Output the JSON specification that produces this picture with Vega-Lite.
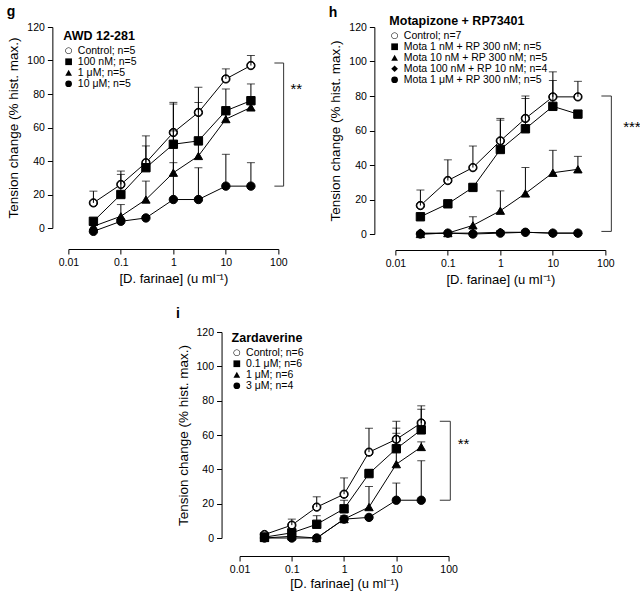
{
  "$schema": "https://vega.github.io/schema/vega-lite/v6.json",
  "padding": {"left": 6, "top": 5, "right": 0, "bottom": 0},
  "background": "white",
  "config": {
    "font": "Liberation Sans",
    "view": {"stroke": null},
    "axis": {"grid": false, "domainColor": "black", "tickColor": "black", "labelColor": "black", "titleColor": "black", "labelFontSize": 10.5, "titleFontSize": 13.5, "titleFontWeight": "normal", "tickSize": 5, "labelPadding": 3, "domainWidth": 1, "tickWidth": 1, "labelOverlap": false},
    "axisX": {"labelPadding": 3, "titlePadding": 5, "titleFontSize": 13},
    "axisY": {"titlePadding": 6, "tickCount": 7},
    "legend": {"orient": "none", "titleFontSize": 12.5, "titleFontWeight": "bold", "titleColor": "black", "labelColor": "black", "labelFontSize": 10.5, "symbolSize": 45, "rowPadding": -2, "padding": 0, "symbolFillColor": "black", "symbolStrokeColor": "black", "symbolStrokeWidth": 1, "titlePadding": 3, "labelOffset": 4, "titleLimit": 400, "labelLimit": 400},
    "title": {"fontSize": 14, "fontWeight": "bold", "anchor": "start", "frame": "bounds", "color": "black"}
  },
  "datasets": {
    "pts": [
      {"panel": "g", "series": "Control; n=5", "x": 0.03, "y": 15, "err": 22},
      {"panel": "g", "series": "Control; n=5", "x": 0.1, "y": 26, "err": 34},
      {"panel": "g", "series": "Control; n=5", "x": 0.3, "y": 39, "err": 55},
      {"panel": "g", "series": "Control; n=5", "x": 1, "y": 57, "err": 75},
      {"panel": "g", "series": "Control; n=5", "x": 3, "y": 69, "err": 84},
      {"panel": "g", "series": "Control; n=5", "x": 10, "y": 89, "err": 95},
      {"panel": "g", "series": "Control; n=5", "x": 30, "y": 97, "err": 103},
      {"panel": "g", "series": "100 nM; n=5", "x": 0.03, "y": 4, "err": 5},
      {"panel": "g", "series": "100 nM; n=5", "x": 0.1, "y": 20, "err": 32},
      {"panel": "g", "series": "100 nM; n=5", "x": 0.3, "y": 36, "err": 49},
      {"panel": "g", "series": "100 nM; n=5", "x": 1, "y": 50, "err": 58},
      {"panel": "g", "series": "100 nM; n=5", "x": 3, "y": 52, "err": 75},
      {"panel": "g", "series": "100 nM; n=5", "x": 10, "y": 70, "err": 83},
      {"panel": "g", "series": "100 nM; n=5", "x": 30, "y": 76, "err": 86},
      {"panel": "g", "series": "1 μM; n=5", "x": 0.03, "y": 1, "err": 2},
      {"panel": "g", "series": "1 μM; n=5", "x": 0.1, "y": 7, "err": 14},
      {"panel": "g", "series": "1 μM; n=5", "x": 0.3, "y": 17, "err": 28},
      {"panel": "g", "series": "1 μM; n=5", "x": 1, "y": 33, "err": 39},
      {"panel": "g", "series": "1 μM; n=5", "x": 3, "y": 43, "err": 52},
      {"panel": "g", "series": "1 μM; n=5", "x": 10, "y": 65, "err": 68},
      {"panel": "g", "series": "1 μM; n=5", "x": 30, "y": 72, "err": 74},
      {"panel": "g", "series": "10 μM; n=5", "x": 0.03, "y": -2, "err": -1},
      {"panel": "g", "series": "10 μM; n=5", "x": 0.1, "y": 4, "err": 5},
      {"panel": "g", "series": "10 μM; n=5", "x": 0.3, "y": 6, "err": 7},
      {"panel": "g", "series": "10 μM; n=5", "x": 1, "y": 17, "err": 74},
      {"panel": "g", "series": "10 μM; n=5", "x": 3, "y": 17, "err": 36},
      {"panel": "g", "series": "10 μM; n=5", "x": 10, "y": 25, "err": 44},
      {"panel": "g", "series": "10 μM; n=5", "x": 30, "y": 25, "err": 39},

      {"panel": "h", "series": "Control; n=7", "x": 0.03, "y": 16.5, "err": 25.5},
      {"panel": "h", "series": "Control; n=7", "x": 0.1, "y": 31, "err": 43},
      {"panel": "h", "series": "Control; n=7", "x": 0.3, "y": 38.5, "err": 51},
      {"panel": "h", "series": "Control; n=7", "x": 1, "y": 54, "err": 67},
      {"panel": "h", "series": "Control; n=7", "x": 3, "y": 67, "err": 80},
      {"panel": "h", "series": "Control; n=7", "x": 10, "y": 79.5, "err": 94},
      {"panel": "h", "series": "Control; n=7", "x": 30, "y": 79.5, "err": 88.5},
      {"panel": "h", "series": "Mota 1 nM + RP 300 nM; n=5", "x": 0.03, "y": 10, "err": 11},
      {"panel": "h", "series": "Mota 1 nM + RP 300 nM; n=5", "x": 0.1, "y": 17.5, "err": 19},
      {"panel": "h", "series": "Mota 1 nM + RP 300 nM; n=5", "x": 0.3, "y": 27, "err": 29},
      {"panel": "h", "series": "Mota 1 nM + RP 300 nM; n=5", "x": 1, "y": 49, "err": 66},
      {"panel": "h", "series": "Mota 1 nM + RP 300 nM; n=5", "x": 3, "y": 61, "err": 78.5},
      {"panel": "h", "series": "Mota 1 nM + RP 300 nM; n=5", "x": 10, "y": 74, "err": 89},
      {"panel": "h", "series": "Mota 1 nM + RP 300 nM; n=5", "x": 30, "y": 69.5, "err": 71},
      {"panel": "h", "series": "Mota 10 nM + RP 300 nM; n=5", "x": 0.03, "y": 0, "err": 1},
      {"panel": "h", "series": "Mota 10 nM + RP 300 nM; n=5", "x": 0.1, "y": 0.5, "err": 1},
      {"panel": "h", "series": "Mota 10 nM + RP 300 nM; n=5", "x": 0.3, "y": 5, "err": 10},
      {"panel": "h", "series": "Mota 10 nM + RP 300 nM; n=5", "x": 1, "y": 13.5, "err": 25},
      {"panel": "h", "series": "Mota 10 nM + RP 300 nM; n=5", "x": 3, "y": 23.5, "err": 38.5},
      {"panel": "h", "series": "Mota 10 nM + RP 300 nM; n=5", "x": 10, "y": 35.5, "err": 48.5},
      {"panel": "h", "series": "Mota 10 nM + RP 300 nM; n=5", "x": 30, "y": 37.5, "err": 45},
      {"panel": "h", "series": "Mota 100 nM + RP 10 nM; n=4", "x": 0.03, "y": 0.5, "err": 1},
      {"panel": "h", "series": "Mota 100 nM + RP 10 nM; n=4", "x": 0.1, "y": 0.5, "err": 1},
      {"panel": "h", "series": "Mota 100 nM + RP 10 nM; n=4", "x": 0.3, "y": 0.5, "err": 1},
      {"panel": "h", "series": "Mota 100 nM + RP 10 nM; n=4", "x": 1, "y": 1, "err": 2},
      {"panel": "h", "series": "Mota 100 nM + RP 10 nM; n=4", "x": 3, "y": 1, "err": 2},
      {"panel": "h", "series": "Mota 100 nM + RP 10 nM; n=4", "x": 10, "y": 0.5, "err": 1},
      {"panel": "h", "series": "Mota 100 nM + RP 10 nM; n=4", "x": 30, "y": 0.5, "err": 1},
      {"panel": "h", "series": "Mota 1 μM + RP 300 nM; n=5", "x": 0.03, "y": 0, "err": 0},
      {"panel": "h", "series": "Mota 1 μM + RP 300 nM; n=5", "x": 0.1, "y": 0.5, "err": 0.5},
      {"panel": "h", "series": "Mota 1 μM + RP 300 nM; n=5", "x": 0.3, "y": 0, "err": 0},
      {"panel": "h", "series": "Mota 1 μM + RP 300 nM; n=5", "x": 1, "y": 0.5, "err": 1},
      {"panel": "h", "series": "Mota 1 μM + RP 300 nM; n=5", "x": 3, "y": 1, "err": 1.5},
      {"panel": "h", "series": "Mota 1 μM + RP 300 nM; n=5", "x": 10, "y": 0.5, "err": 0.5},
      {"panel": "h", "series": "Mota 1 μM + RP 300 nM; n=5", "x": 30, "y": 0.5, "err": 0.5},

      {"panel": "i", "series": "Control; n=6", "x": 0.03, "y": 2, "err": 3},
      {"panel": "i", "series": "Control; n=6", "x": 0.1, "y": 7.5, "err": 11},
      {"panel": "i", "series": "Control; n=6", "x": 0.3, "y": 18, "err": 24},
      {"panel": "i", "series": "Control; n=6", "x": 1, "y": 25.5, "err": 35},
      {"panel": "i", "series": "Control; n=6", "x": 3, "y": 50, "err": 64},
      {"panel": "i", "series": "Control; n=6", "x": 10, "y": 57.5, "err": 68},
      {"panel": "i", "series": "Control; n=6", "x": 30, "y": 67, "err": 77},
      {"panel": "i", "series": "0.1 μM; n=6", "x": 0.03, "y": 0.5, "err": 1},
      {"panel": "i", "series": "0.1 μM; n=6", "x": 0.1, "y": 3, "err": 5},
      {"panel": "i", "series": "0.1 μM; n=6", "x": 0.3, "y": 8, "err": 13},
      {"panel": "i", "series": "0.1 μM; n=6", "x": 1, "y": 17, "err": 22},
      {"panel": "i", "series": "0.1 μM; n=6", "x": 3, "y": 37.5, "err": 40},
      {"panel": "i", "series": "0.1 μM; n=6", "x": 10, "y": 52, "err": 64},
      {"panel": "i", "series": "0.1 μM; n=6", "x": 30, "y": 63, "err": 75},
      {"panel": "i", "series": "1 μM; n=6", "x": 0.03, "y": 0, "err": 1},
      {"panel": "i", "series": "1 μM; n=6", "x": 0.1, "y": 1, "err": 2},
      {"panel": "i", "series": "1 μM; n=6", "x": 0.3, "y": 0, "err": 1},
      {"panel": "i", "series": "1 μM; n=6", "x": 1, "y": 11, "err": 13},
      {"panel": "i", "series": "1 μM; n=6", "x": 3, "y": 18, "err": 30},
      {"panel": "i", "series": "1 μM; n=6", "x": 10, "y": 43, "err": 61},
      {"panel": "i", "series": "1 μM; n=6", "x": 30, "y": 53, "err": 56},
      {"panel": "i", "series": "3 μM; n=4", "x": 0.03, "y": 0, "err": 1},
      {"panel": "i", "series": "3 μM; n=4", "x": 0.1, "y": 0, "err": 1},
      {"panel": "i", "series": "3 μM; n=4", "x": 0.3, "y": 0, "err": 1},
      {"panel": "i", "series": "3 μM; n=4", "x": 1, "y": 11, "err": 12},
      {"panel": "i", "series": "3 μM; n=4", "x": 3, "y": 12, "err": 13},
      {"panel": "i", "series": "3 μM; n=4", "x": 10, "y": 22, "err": 32},
      {"panel": "i", "series": "3 μM; n=4", "x": 30, "y": 22, "err": 45}
    ],
    "br": [
      {"panel": "g", "xl": 84, "xr": 126, "yt": 98.5, "yb": 25, "xs": 220, "ys": 83, "stars": "**"},
      {"panel": "h", "xl": 84, "xr": 130, "yt": 80, "yb": 1.5, "xs": 320, "ys": 62, "stars": "***"},
      {"panel": "i", "xl": 68, "xr": 108, "yt": 68, "yb": 22, "xs": 194, "ys": 55, "stars": "**"}
    ]
  },
  "resolve": {"scale": {"x": "independent", "y": "independent", "shape": "independent"}, "legend": {"shape": "independent"}},
  "center": true,
  "spacing": 20,
  "vconcat": [
    {
      "hconcat": [
        {
          "width": 210, "height": 201,
          "title": {"text": "g", "offset": 3},
          "layer": [
            {"data": {"name": "pts"}, "transform": [{"filter": "datum.panel === 'g'"}], "mark": {"type": "line", "color": "black", "strokeWidth": 1},
             "encoding": {
               "x": {"field": "x", "type": "quantitative", "scale": {"type": "log", "domain": [0.01, 100]}, "axis": {"values": [0.01, 0.1, 1, 10, 100], "format": "~g", "offset": 21, "labelFlush": false, "title": "[D. farinae] (u ml⁻¹)"}},
               "y": {"field": "y", "type": "quantitative", "scale": {"domain": [0, 120], "nice": false}, "axis": {"values": [0, 20, 40, 60, 80, 100, 120], "offset": 16, "title": "Tension change (% hist. max.)"}},
               "detail": {"field": "series"}, "order": {"field": "x"}}},
            {"data": {"name": "pts"}, "transform": [{"filter": "datum.panel === 'g' && indexof(datum.series, 'Control') === 0"}], "mark": {"type": "circle", "color": "white", "size": 70, "opacity": 1},
             "encoding": {
               "x": {"field": "x", "type": "quantitative", "axis": {"values": [0.01, 0.1, 1, 10, 100], "format": "~g", "offset": 21, "labelFlush": false, "title": "[D. farinae] (u ml⁻¹)"}},
               "y": {"field": "y", "type": "quantitative", "axis": {"values": [0, 20, 40, 60, 80, 100, 120], "offset": 16, "title": "Tension change (% hist. max.)"}}}},
            {"data": {"name": "pts"}, "transform": [{"filter": "datum.panel === 'g'"}], "mark": {"type": "point", "filled": true, "color": "black", "stroke": "black", "strokeWidth": 1, "size": 70, "opacity": 1},
             "encoding": {
               "x": {"field": "x", "type": "quantitative", "axis": {"values": [0.01, 0.1, 1, 10, 100], "format": "~g", "offset": 21, "labelFlush": false, "title": "[D. farinae] (u ml⁻¹)"}},
               "y": {"field": "y", "type": "quantitative", "axis": {"values": [0, 20, 40, 60, 80, 100, 120], "offset": 16, "title": "Tension change (% hist. max.)"}},
               "shape": {"field": "series", "type": "nominal", "scale": {"domain": ["Control; n=5", "100 nM; n=5", "1 μM; n=5", "10 μM; n=5"], "range": ["M0,-1A1,1,0,1,1,0,1A1,1,0,1,1,0,-1ZM0,-0.84A0.84,0.84,0,1,0,0,0.84A0.84,0.84,0,1,0,0,-0.84Z", "square", "triangle-up", "circle"]}, "legend": {"title": "AWD 12-281", "legendX": -5, "legendY": 3, "symbolFillColor": "black", "symbolStrokeColor": "black"}}}},
            {"data": {"name": "pts"}, "transform": [{"filter": "datum.panel === 'g'"}], "mark": {"type": "rule", "color": "black", "strokeWidth": 1},
             "encoding": {"x": {"field": "x", "type": "quantitative"}, "y": {"field": "y", "type": "quantitative", "axis": {"values": [0, 20, 40, 60, 80, 100, 120], "offset": 16, "title": "Tension change (% hist. max.)"}}, "y2": {"field": "err"}}},
            {"data": {"name": "pts"}, "transform": [{"filter": "datum.panel === 'g'"}], "mark": {"type": "tick", "orient": "horizontal", "color": "black", "size": 8, "thickness": 1},
             "encoding": {"x": {"field": "x", "type": "quantitative"}, "y": {"field": "err", "type": "quantitative", "axis": {"values": [0, 20, 40, 60, 80, 100, 120], "offset": 16, "title": "Tension change (% hist. max.)"}}}},
            {"data": {"name": "br"}, "transform": [{"filter": "datum.panel === 'g'"}], "mark": {"type": "rule", "color": "#333", "strokeWidth": 1},
             "encoding": {"x": {"field": "xr", "type": "quantitative"}, "y": {"field": "yt", "type": "quantitative", "axis": {"values": [0, 20, 40, 60, 80, 100, 120], "offset": 16, "title": "Tension change (% hist. max.)"}}, "y2": {"field": "yb"}}},
            {"data": {"name": "br"}, "transform": [{"filter": "datum.panel === 'g'"}], "mark": {"type": "rule", "color": "#333", "strokeWidth": 1},
             "encoding": {"x": {"field": "xl", "type": "quantitative"}, "x2": {"field": "xr"}, "y": {"field": "yt", "type": "quantitative", "axis": {"values": [0, 20, 40, 60, 80, 100, 120], "offset": 16, "title": "Tension change (% hist. max.)"}}}},
            {"data": {"name": "br"}, "transform": [{"filter": "datum.panel === 'g'"}], "mark": {"type": "rule", "color": "#333", "strokeWidth": 1},
             "encoding": {"x": {"field": "xl", "type": "quantitative"}, "x2": {"field": "xr"}, "y": {"field": "yb", "type": "quantitative", "axis": {"values": [0, 20, 40, 60, 80, 100, 120], "offset": 16, "title": "Tension change (% hist. max.)"}}}},
            {"data": {"name": "br"}, "transform": [{"filter": "datum.panel === 'g'"}], "mark": {"type": "text", "fontSize": 15, "color": "black", "baseline": "middle"},
             "encoding": {"x": {"field": "xs", "type": "quantitative"}, "y": {"field": "ys", "type": "quantitative", "axis": {"values": [0, 20, 40, 60, 80, 100, 120], "offset": 16, "title": "Tension change (% hist. max.)"}}, "text": {"field": "stars"}}}
          ]
        },
        {
          "width": 210, "height": 207,
          "title": {"text": "h", "offset": -5},
          "layer": [
            {"data": {"name": "pts"}, "transform": [{"filter": "datum.panel === 'h'"}], "mark": {"type": "line", "color": "black", "strokeWidth": 1},
             "encoding": {
               "x": {"field": "x", "type": "quantitative", "scale": {"type": "log", "domain": [0.01, 100]}, "axis": {"values": [0.01, 0.1, 1, 10, 100], "format": "~g", "offset": 16, "labelFlush": false, "title": "[D. farinae] (u ml⁻¹)"}},
               "y": {"field": "y", "type": "quantitative", "scale": {"domain": [0, 120], "nice": false}, "axis": {"values": [0, 20, 40, 60, 80, 100, 120], "offset": 21, "title": "Tension change (% hist. max.)"}},
               "detail": {"field": "series"}, "order": {"field": "x"}}},
            {"data": {"name": "pts"}, "transform": [{"filter": "datum.panel === 'h' && indexof(datum.series, 'Control') === 0"}], "mark": {"type": "circle", "color": "white", "size": 70, "opacity": 1},
             "encoding": {
               "x": {"field": "x", "type": "quantitative", "axis": {"values": [0.01, 0.1, 1, 10, 100], "format": "~g", "offset": 16, "labelFlush": false, "title": "[D. farinae] (u ml⁻¹)"}},
               "y": {"field": "y", "type": "quantitative", "axis": {"values": [0, 20, 40, 60, 80, 100, 120], "offset": 21, "title": "Tension change (% hist. max.)"}}}},
            {"data": {"name": "pts"}, "transform": [{"filter": "datum.panel === 'h'"}], "mark": {"type": "point", "filled": true, "color": "black", "stroke": "black", "strokeWidth": 1, "size": 70, "opacity": 1},
             "encoding": {
               "x": {"field": "x", "type": "quantitative", "axis": {"values": [0.01, 0.1, 1, 10, 100], "format": "~g", "offset": 16, "labelFlush": false, "title": "[D. farinae] (u ml⁻¹)"}},
               "y": {"field": "y", "type": "quantitative", "axis": {"values": [0, 20, 40, 60, 80, 100, 120], "offset": 21, "title": "Tension change (% hist. max.)"}},
               "shape": {"field": "series", "type": "nominal", "scale": {"domain": ["Control; n=7", "Mota 1 nM + RP 300 nM; n=5", "Mota 10 nM + RP 300 nM; n=5", "Mota 100 nM + RP 10 nM; n=4", "Mota 1 μM + RP 300 nM; n=5"], "range": ["M0,-1A1,1,0,1,1,0,1A1,1,0,1,1,0,-1ZM0,-0.84A0.84,0.84,0,1,0,0,0.84A0.84,0.84,0,1,0,0,-0.84Z", "square", "triangle-up", "diamond", "circle"]}, "legend": {"title": "Motapizone + RP73401", "legendX": -6, "legendY": -12, "symbolFillColor": "black", "symbolStrokeColor": "black"}}}},
            {"data": {"name": "pts"}, "transform": [{"filter": "datum.panel === 'h'"}], "mark": {"type": "rule", "color": "black", "strokeWidth": 1},
             "encoding": {"x": {"field": "x", "type": "quantitative"}, "y": {"field": "y", "type": "quantitative", "axis": {"values": [0, 20, 40, 60, 80, 100, 120], "offset": 21, "title": "Tension change (% hist. max.)"}}, "y2": {"field": "err"}}},
            {"data": {"name": "pts"}, "transform": [{"filter": "datum.panel === 'h'"}], "mark": {"type": "tick", "orient": "horizontal", "color": "black", "size": 8, "thickness": 1},
             "encoding": {"x": {"field": "x", "type": "quantitative"}, "y": {"field": "err", "type": "quantitative", "axis": {"values": [0, 20, 40, 60, 80, 100, 120], "offset": 21, "title": "Tension change (% hist. max.)"}}}},
            {"data": {"name": "br"}, "transform": [{"filter": "datum.panel === 'h'"}], "mark": {"type": "rule", "color": "#333", "strokeWidth": 1},
             "encoding": {"x": {"field": "xr", "type": "quantitative"}, "y": {"field": "yt", "type": "quantitative", "axis": {"values": [0, 20, 40, 60, 80, 100, 120], "offset": 21, "title": "Tension change (% hist. max.)"}}, "y2": {"field": "yb"}}},
            {"data": {"name": "br"}, "transform": [{"filter": "datum.panel === 'h'"}], "mark": {"type": "rule", "color": "#333", "strokeWidth": 1},
             "encoding": {"x": {"field": "xl", "type": "quantitative"}, "x2": {"field": "xr"}, "y": {"field": "yt", "type": "quantitative", "axis": {"values": [0, 20, 40, 60, 80, 100, 120], "offset": 21, "title": "Tension change (% hist. max.)"}}}},
            {"data": {"name": "br"}, "transform": [{"filter": "datum.panel === 'h'"}], "mark": {"type": "rule", "color": "#333", "strokeWidth": 1},
             "encoding": {"x": {"field": "xl", "type": "quantitative"}, "x2": {"field": "xr"}, "y": {"field": "yb", "type": "quantitative", "axis": {"values": [0, 20, 40, 60, 80, 100, 120], "offset": 21, "title": "Tension change (% hist. max.)"}}}},
            {"data": {"name": "br"}, "transform": [{"filter": "datum.panel === 'h'"}], "mark": {"type": "text", "fontSize": 15, "color": "black", "baseline": "middle"},
             "encoding": {"x": {"field": "xs", "type": "quantitative"}, "y": {"field": "ys", "type": "quantitative", "axis": {"values": [0, 20, 40, 60, 80, 100, 120], "offset": 21, "title": "Tension change (% hist. max.)"}}, "text": {"field": "stars"}}}
          ]
        }
      ],
      "spacing": 26,
      "resolve": {"scale": {"x": "independent", "y": "independent", "shape": "independent"}, "legend": {"shape": "independent"}}
    },
    {
      "width": 209, "height": 206,
      "title": {"text": "i", "offset": 6},
      "layer": [
        {"data": {"name": "pts"}, "transform": [{"filter": "datum.panel === 'i'"}], "mark": {"type": "line", "color": "black", "strokeWidth": 1},
         "encoding": {
           "x": {"field": "x", "type": "quantitative", "scale": {"type": "log", "domain": [0.01, 100]}, "axis": {"values": [0.01, 0.1, 1, 10, 100], "format": "~g", "offset": 18, "labelFlush": false, "title": "[D. farinae] (u ml⁻¹)", "titlePadding": 3}},
           "y": {"field": "y", "type": "quantitative", "scale": {"domain": [0, 120], "nice": false}, "axis": {"values": [0, 20, 40, 60, 80, 100, 120], "offset": 18, "title": "Tension change (% hist. max.)"}},
           "detail": {"field": "series"}, "order": {"field": "x"}}},
        {"data": {"name": "pts"}, "transform": [{"filter": "datum.panel === 'i' && indexof(datum.series, 'Control') === 0"}], "mark": {"type": "circle", "color": "white", "size": 70, "opacity": 1},
         "encoding": {
           "x": {"field": "x", "type": "quantitative", "axis": {"values": [0.01, 0.1, 1, 10, 100], "format": "~g", "offset": 18, "labelFlush": false, "title": "[D. farinae] (u ml⁻¹)", "titlePadding": 3}},
           "y": {"field": "y", "type": "quantitative", "axis": {"values": [0, 20, 40, 60, 80, 100, 120], "offset": 18, "title": "Tension change (% hist. max.)"}}}},
        {"data": {"name": "pts"}, "transform": [{"filter": "datum.panel === 'i'"}], "mark": {"type": "point", "filled": true, "color": "black", "stroke": "black", "strokeWidth": 1, "size": 70, "opacity": 1},
         "encoding": {
           "x": {"field": "x", "type": "quantitative", "axis": {"values": [0.01, 0.1, 1, 10, 100], "format": "~g", "offset": 18, "labelFlush": false, "title": "[D. farinae] (u ml⁻¹)", "titlePadding": 3}},
           "y": {"field": "y", "type": "quantitative", "axis": {"values": [0, 20, 40, 60, 80, 100, 120], "offset": 18, "title": "Tension change (% hist. max.)"}},
           "shape": {"field": "series", "type": "nominal", "scale": {"domain": ["Control; n=6", "0.1 μM; n=6", "1 μM; n=6", "3 μM; n=4"], "range": ["M0,-1A1,1,0,1,1,0,1A1,1,0,1,1,0,-1ZM0,-0.84A0.84,0.84,0,1,0,0,0.84A0.84,0.84,0,1,0,0,-0.84Z", "square", "triangle-up", "circle"]}, "legend": {"title": "Zardaverine", "legendX": -8, "legendY": 0, "symbolFillColor": "black", "symbolStrokeColor": "black"}}}},
        {"data": {"name": "pts"}, "transform": [{"filter": "datum.panel === 'i'"}], "mark": {"type": "rule", "color": "black", "strokeWidth": 1},
         "encoding": {"x": {"field": "x", "type": "quantitative"}, "y": {"field": "y", "type": "quantitative", "axis": {"values": [0, 20, 40, 60, 80, 100, 120], "offset": 18, "title": "Tension change (% hist. max.)"}}, "y2": {"field": "err"}}},
        {"data": {"name": "pts"}, "transform": [{"filter": "datum.panel === 'i'"}], "mark": {"type": "tick", "orient": "horizontal", "color": "black", "size": 8, "thickness": 1},
         "encoding": {"x": {"field": "x", "type": "quantitative"}, "y": {"field": "err", "type": "quantitative", "axis": {"values": [0, 20, 40, 60, 80, 100, 120], "offset": 18, "title": "Tension change (% hist. max.)"}}}},
        {"data": {"name": "br"}, "transform": [{"filter": "datum.panel === 'i'"}], "mark": {"type": "rule", "color": "#333", "strokeWidth": 1},
         "encoding": {"x": {"field": "xr", "type": "quantitative"}, "y": {"field": "yt", "type": "quantitative", "axis": {"values": [0, 20, 40, 60, 80, 100, 120], "offset": 18, "title": "Tension change (% hist. max.)"}}, "y2": {"field": "yb"}}},
        {"data": {"name": "br"}, "transform": [{"filter": "datum.panel === 'i'"}], "mark": {"type": "rule", "color": "#333", "strokeWidth": 1},
         "encoding": {"x": {"field": "xl", "type": "quantitative"}, "x2": {"field": "xr"}, "y": {"field": "yt", "type": "quantitative", "axis": {"values": [0, 20, 40, 60, 80, 100, 120], "offset": 18, "title": "Tension change (% hist. max.)"}}}},
        {"data": {"name": "br"}, "transform": [{"filter": "datum.panel === 'i'"}], "mark": {"type": "rule", "color": "#333", "strokeWidth": 1},
         "encoding": {"x": {"field": "xl", "type": "quantitative"}, "x2": {"field": "xr"}, "y": {"field": "yb", "type": "quantitative", "axis": {"values": [0, 20, 40, 60, 80, 100, 120], "offset": 18, "title": "Tension change (% hist. max.)"}}}},
        {"data": {"name": "br"}, "transform": [{"filter": "datum.panel === 'i'"}], "mark": {"type": "text", "fontSize": 15, "color": "black", "baseline": "middle"},
         "encoding": {"x": {"field": "xs", "type": "quantitative"}, "y": {"field": "ys", "type": "quantitative", "axis": {"values": [0, 20, 40, 60, 80, 100, 120], "offset": 18, "title": "Tension change (% hist. max.)"}}, "text": {"field": "stars"}}}
      ]
    }
  ]
}
